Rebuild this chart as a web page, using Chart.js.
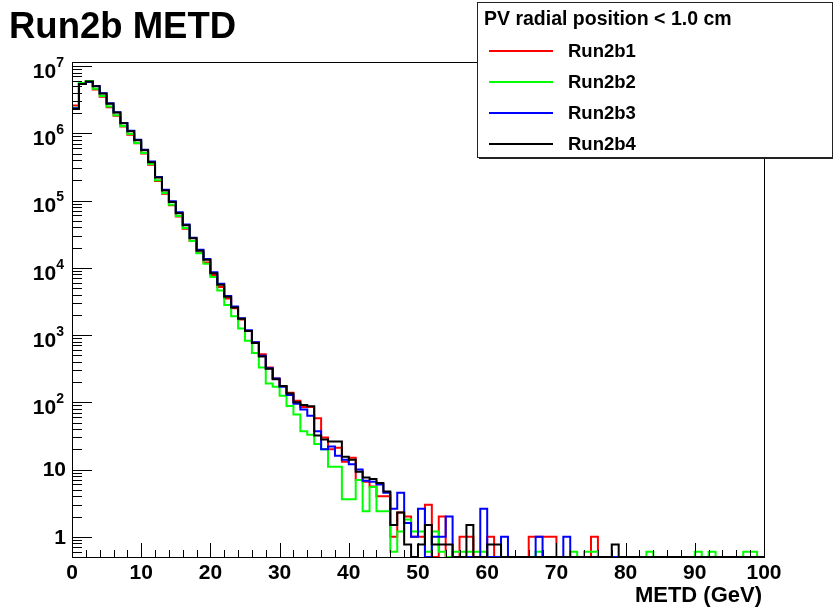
<!DOCTYPE html>
<html>
<head>
<meta charset="utf-8">
<script src="https://cdn.jsdelivr.net/npm/chart.js@4.4.0/dist/chart.umd.min.js"></script>
<style>
  body { margin: 0; background: #fff; }
</style>
</head>
<body>
<canvas id="metd-chart" width="833" height="610"></canvas>
<script>
// bin low edges, 1 GeV bins from 0 to 100
const binEdges = Array.from({ length: 101 }, (_, i) => i);
const xTickLabels = ["0", "10", "20", "30", "40", "50", "60", "70", "80", "90", "100"];
const yDecades = [0, 1, 2, 3, 4, 5, 6, 7];
const seriesNames = ["Run2b1", "Run2b2", "Run2b3", "Run2b4"];

const run2b1 = [
  2.6e6, 5.6e6, 6.0e6, 4.5e6, 3.5e6, 2.45e6, 1.82e6, 1.26e6, 9.5e5, 7.1e5,
  5.0e5, 3.4e5, 1.95e5, 1.26e5, 8.5e4, 5.8e4, 3.8e4, 2.5e4, 1.66e4, 1.2e4,
  7800, 5200, 3500, 2500, 1700, 1150, 780, 520, 330, 225,
  174, 138, 105, 85, 85, 58, 30, 20, 21, 13,
  15, 7, 6.6, 5.6, 4, 4, 1.0, 2.3, 2.0, 1.0,
  1.0, 3.0, 0, 2.0, 0, 0, 1.0, 1.0, 0, 0,
  1.0, 0, 0, 0, 0, 0, 1.0, 1.0, 1.0, 1.0,
  0, 0, 0, 0, 0, 1.0, 0, 0, 0, 0,
  0, 0, 0, 0, 0, 0, 0, 0, 0, 0,
  0, 0, 0, 0, 0, 0, 0, 0, 0, 0
];
const run2b2 = [
  2.4e6, 5.6e6, 6.0e6, 4.6e6, 3.6e6, 2.5e6, 1.86e6, 1.29e6, 9.8e5, 7.2e5,
  5.1e5, 3.5e5, 2.0e5, 1.3e5, 8.7e4, 5.9e4, 3.9e4, 2.5e4, 1.65e4, 1.15e4,
  7300, 4600, 2800, 1900, 1250, 820, 540, 330, 190, 170,
  125, 88, 66, 37, 33, 24, 20, 11, 11, 3.6,
  3.6, 7, 2.4, 5.5, 2.4, 2.4, 0.6, 1.2, 1.8, 1.2,
  1.2, 0.6, 1.2, 0.6, 0, 0.6, 0.6, 0.6, 0.6, 0.6,
  0, 0, 0, 0, 0, 0, 0, 0.6, 0, 0,
  0, 0, 0.6, 0, 0.6, 0.6, 0, 0, 0, 0,
  0, 0, 0, 0.6, 0, 0, 0, 0, 0, 0,
  0.6, 0, 0.6, 0, 0, 0, 0, 0.6, 0.6, 0
];
const run2b3 = [
  2.35e6, 5.4e6, 5.8e6, 5.05e6, 3.95e6, 2.8e6, 2.06e6, 1.43e6, 1.09e6, 8.0e5,
  5.7e5, 3.8e5, 2.25e5, 1.45e5, 9.8e4, 6.7e4, 4.4e4, 2.8e4, 1.85e4, 1.35e4,
  8600, 5800, 3800, 2650, 1780, 1180, 780, 490, 320, 225,
  170, 128, 95, 78, 63, 37, 20, 22, 16, 14,
  12, 10, 6.8, 6.6, 6.0, 4.5, 2.6, 4.5, 1.6, 1.0,
  2.6, 0, 1.0, 1.0, 2.0, 0, 0, 0, 0, 2.6,
  0, 0, 1.0, 0, 0, 0, 0, 1.0, 0, 0,
  0, 1.0, 0, 0, 0, 0, 0, 0, 0, 0,
  0, 0, 0, 0, 0, 0, 0, 0, 0, 0,
  0, 0, 0, 0, 0, 0, 0, 0, 0, 0
];
const run2b4 = [
  2.3e6, 5.4e6, 5.9e6, 5.0e6, 3.9e6, 2.75e6, 2.04e6, 1.41e6, 1.07e6, 7.9e5,
  5.6e5, 3.7e5, 2.2e5, 1.41e5, 9.5e4, 6.5e4, 4.3e4, 2.75e4, 1.8e4, 1.32e4,
  8300, 5600, 3700, 2570, 1740, 1150, 760, 480, 316, 220,
  174, 135, 100, 91, 87, 32, 28, 26, 26, 15.5,
  14, 9.3, 7.6, 7.2, 6.3, 4.7, 1.5, 2.3, 0.77, 0,
  0.77, 1.5, 0.77, 0.77, 0.77, 0, 0, 1.5, 0, 0,
  0.77, 0.77, 0, 0, 0, 0, 0, 0, 0, 0,
  0, 0, 0, 0, 0, 0, 0, 0, 0.77, 0,
  0, 0, 0, 0, 0, 0, 0, 0, 0, 0,
  0, 0, 0, 0, 0, 0, 0, 0, 0, 0
];

const Y_MIN = 0.5;
const Y_MAX = 1.15e7;
const COLORS = ["#ff0000", "#00ff00", "#0000ff", "#000000"];
const FONT = "'Liberation Sans', Arial, Helvetica, sans-serif";

// empty bins sit on the bottom of the log frame, like ROOT draws them
function histPoints(values) {
  const pts = values.map((v, i) => ({ x: binEdges[i], y: v > 0 ? v : Y_MIN }));
  pts.push({ x: binEdges[values.length], y: pts[pts.length - 1].y });
  return pts;
}

function makeDataset(name, values, color, order) {
  return {
    label: name,
    data: histPoints(values),
    borderColor: color,
    backgroundColor: color,
    borderWidth: 2,
    stepped: "before", // horizontal over the bin, then vertical at its upper edge
    pointRadius: 0,
    fill: false,
    order: order,
  };
}

const rootFrame = {
  id: "rootFrame",
  afterDraw(chart) {
    const ctx = chart.ctx;
    const xs = chart.scales.x;
    const ys = chart.scales.y;
    const a = chart.chartArea;
    ctx.save();
    ctx.strokeStyle = "#000";
    ctx.fillStyle = "#000";
    ctx.lineWidth = 1;

    // frame
    ctx.strokeRect(a.left + 0.5, a.top + 0.5, a.right - a.left, a.bottom - a.top);

    // x ticks (every 2, long every 10)
    ctx.beginPath();
    for (let v = 0; v <= 100; v += 2) {
      const px = Math.round(xs.getPixelForValue(v)) + 0.5;
      const len = v % 10 === 0 ? 14 : 7;
      ctx.moveTo(px, a.bottom);
      ctx.lineTo(px, a.bottom - len);
    }
    // y ticks, log decades with 2..9 subticks
    for (let k = -1; k <= 7; k++) {
      for (let m = 1; m <= 9; m++) {
        const v = m * Math.pow(10, k);
        if (v < Y_MIN || v > Y_MAX) continue;
        const py = Math.round(ys.getPixelForValue(v)) + 0.5;
        ctx.moveTo(a.left, py);
        ctx.lineTo(a.left + (m === 1 ? 20 : 10), py);
      }
    }
    ctx.stroke();

    // x tick labels
    ctx.font = "bold 21px " + FONT;
    ctx.textAlign = "center";
    ctx.textBaseline = "middle";
    xTickLabels.forEach((lab) => {
      ctx.fillText(lab, xs.getPixelForValue(Number(lab)), 573);
    });

    // y tick labels: 1, 10, then 10^k
    yDecades.forEach((k) => {
      const py = ys.getPixelForValue(Math.pow(10, k));
      if (k < 2) {
        ctx.font = "bold 21px " + FONT;
        ctx.textAlign = "right";
        ctx.fillText(k === 0 ? "1" : "10", 66, py + 1);
      } else {
        ctx.font = "bold 14px " + FONT;
        const exp = String(k);
        const ew = ctx.measureText(exp).width;
        ctx.textAlign = "left";
        ctx.fillText(exp, 64 - ew, py - 3);
        ctx.font = "bold 21px " + FONT;
        ctx.textAlign = "right";
        ctx.fillText("10", 64 - ew, py + 6);
      }
    });

    // axis title
    ctx.font = "bold 22px " + FONT;
    ctx.textAlign = "right";
    ctx.fillText("METD (GeV)", 762, 596);

    // histogram title
    ctx.font = "bold 36.5px " + FONT;
    ctx.textAlign = "left";
    ctx.fillText("Run2b METD", 9, 28);

    // legend box
    const bx = 477, by = 2, bw = 355, bh = 155;
    ctx.fillStyle = "#fff";
    ctx.fillRect(bx, by, bw, bh);
    ctx.strokeStyle = "#222";
    ctx.strokeRect(bx + 0.5, by + 0.5, bw, bh);
    ctx.fillStyle = "#222";
    ctx.fillRect(bx + 2, by + bh, bw, 2);

    ctx.fillStyle = "#000";
    ctx.textAlign = "left";
    ctx.font = "bold 19.5px " + FONT;
    ctx.fillText("PV radial position < 1.0 cm", 484, 20);
    ctx.font = "bold 18.5px " + FONT;
    seriesNames.forEach((name, i) => {
      const ry = 51 + i * 31;
      ctx.strokeStyle = COLORS[i];
      ctx.lineWidth = 2;
      ctx.beginPath();
      ctx.moveTo(489, ry);
      ctx.lineTo(553, ry);
      ctx.stroke();
      ctx.fillStyle = "#000";
      ctx.fillText(name, 568, ry + 1);
    });
    ctx.restore();
  },
};

const data_metd = {
  datasets: [
    makeDataset(seriesNames[0], run2b1, COLORS[0], 4),
    makeDataset(seriesNames[1], run2b2, COLORS[1], 3),
    makeDataset(seriesNames[2], run2b3, COLORS[2], 2),
    makeDataset(seriesNames[3], run2b4, COLORS[3], 1),
  ],
};

const config_metd = {
  type: "line",
  data: data_metd,
  options: {
    responsive: false,
    animation: false,
    devicePixelRatio: 1,
    layout: {
      padding: { left: 72, right: 69, top: 62, bottom: 53 },
    },
    scales: {
      x: { type: "linear", min: 0, max: 100, display: false },
      y: { type: "logarithmic", min: Y_MIN, max: Y_MAX, display: false },
    },
    plugins: {
      legend: { display: false },
      tooltip: { enabled: false },
    },
  },
  plugins: [rootFrame],
};

var ctx_metd = document.getElementById("metd-chart").getContext("2d");
var metdChart = new Chart(ctx_metd, config_metd);
</script>
</body>
</html>
